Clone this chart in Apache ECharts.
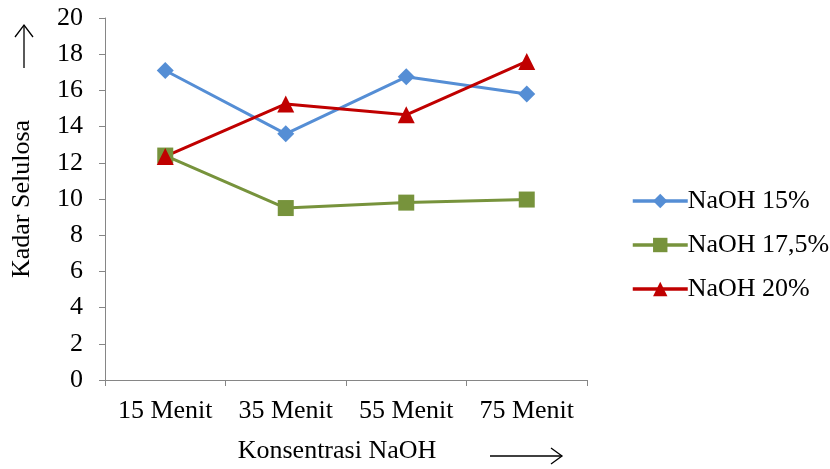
<!DOCTYPE html>
<html>
<head>
<meta charset="utf-8">
<script src="https://cdn.jsdelivr.net/npm/echarts@6/dist/echarts.min.js"></script>
<style>
  html, body { margin: 0; padding: 0; background: #fff; }
  #chart { width: 830px; height: 469px; }
</style>
</head>
<body>
<div id="chart"></div>
<script>
// Kadar selulosa per waktu perendaman untuk tiga konsentrasi NaOH
const categories = ['15 Menit', '35 Menit', '55 Menit', '75 Menit'];
const naoh15 = [17.1, 13.6, 16.75, 15.8];
const naoh175 = [12.4, 9.5, 9.8, 9.97];
const naoh20 = [12.35, 15.25, 14.65, 17.6];
const yTicks = [0, 2, 4, 6, 8, 10, 12, 14, 16, 18, 20];

const FONT = '"Liberation Serif", "Times New Roman", serif';
const FONT_SIZE = 26;
const AXIS_GREY = '#868686';

const chart = echarts.init(document.getElementById('chart'));

function lineSeries(name, data, color, symbol, size) {
  return {
    name: name,
    type: 'line',
    data: data,
    symbol: symbol,
    symbolSize: size,
    lineStyle: { color: color, width: 3 },
    itemStyle: { color: color },
    animation: false
  };
}

chart.setOption({
  animation: false,
  textStyle: { fontFamily: FONT },
  grid: { left: 105, top: 18, right: 243, bottom: 88 },
  legend: {
    orient: 'vertical',
    left: 626,
    top: 183,
    itemGap: 18,
    itemWidth: 55,
    itemHeight: 18,
    lineStyle: { width: 3.5 },
    textStyle: { fontFamily: FONT, fontSize: FONT_SIZE, color: '#000', padding: [0, 0, 0, -5] },
    data: ['NaOH 15%', 'NaOH 17,5%', 'NaOH 20%']
  },
  xAxis: {
    type: 'category',
    data: categories,
    boundaryGap: true,
    axisLine: { lineStyle: { color: AXIS_GREY, width: 1 } },
    axisTick: { show: true, length: 6, inside: false, interval: 0, lineStyle: { color: AXIS_GREY } },
    axisLabel: { color: '#000', fontFamily: FONT, fontSize: FONT_SIZE, margin: 18, interval: 0 },
    name: 'Konsentrasi NaOH',
    nameLocation: 'middle',
    nameGap: 58,
    nameTextStyle: { color: '#000', fontFamily: FONT, fontSize: FONT_SIZE, padding: [0, 18, 0, 0] }
  },
  yAxis: {
    type: 'value',
    min: yTicks[0],
    max: yTicks[yTicks.length - 1],
    interval: 2,
    splitLine: { show: false },
    axisLine: { show: true, lineStyle: { color: AXIS_GREY, width: 1 } },
    axisTick: { show: true, length: 6, lineStyle: { color: AXIS_GREY } },
    axisLabel: { color: '#000', fontFamily: FONT, fontSize: FONT_SIZE, margin: 22 },
    name: 'Kadar Selulosa',
    nameLocation: 'middle',
    nameGap: 70,
    nameRotate: 90,
    nameTextStyle: { color: '#000', fontFamily: FONT, fontSize: FONT_SIZE }
  },
  graphic: [
    // panah ke atas di samping judul sumbu Y
    { type: 'line', shape: { x1: 24, y1: 68, x2: 24, y2: 25 }, style: { stroke: '#000', lineWidth: 1.3 } },
    { type: 'polyline', shape: { points: [[15, 37], [24, 25], [33, 37]] }, style: { stroke: '#000', lineWidth: 1.3, fill: null } },
    // panah ke kanan di samping judul sumbu X
    { type: 'line', shape: { x1: 490, y1: 456, x2: 562, y2: 456 }, style: { stroke: '#000', lineWidth: 1.3 } },
    { type: 'polyline', shape: { points: [[551, 448], [562, 456], [551, 464]] }, style: { stroke: '#000', lineWidth: 1.3, fill: null } }
  ],
  series: [
    lineSeries('NaOH 15%', naoh15, '#558ED5', 'diamond', 17),
    lineSeries('NaOH 17,5%', naoh175, '#77933C', 'rect', 16),
    lineSeries('NaOH 20%', naoh20, '#C00000', 'triangle', 17)
  ]
});
</script>
</body>
</html>
